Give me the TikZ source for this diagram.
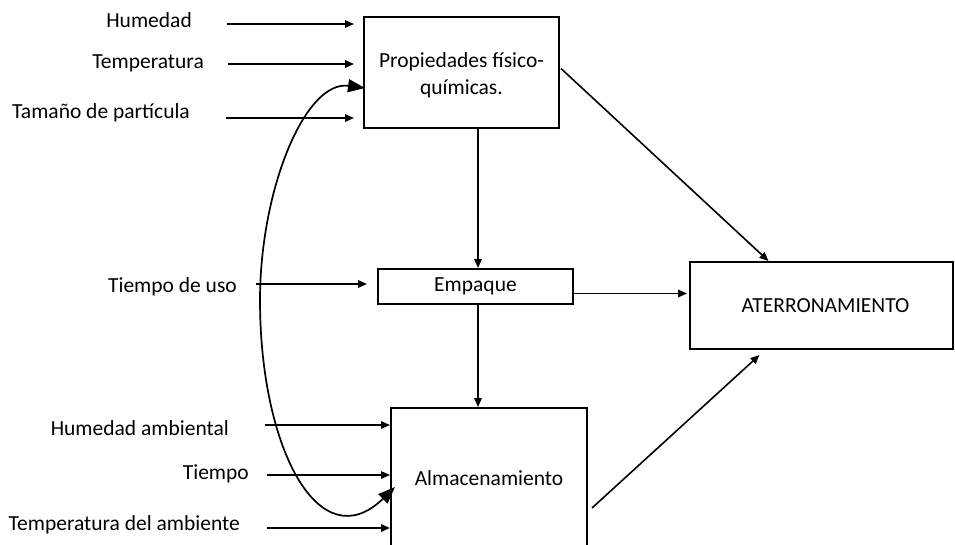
\documentclass[tikz,border=0pt]{standalone}
\usepackage{fontspec}
\setmainfont{Carlito}
\usetikzlibrary{arrows.meta,calc}
\begin{document}
\begin{tikzpicture}[x=1pt,y=-1pt,
  box/.style={draw,line width=2pt,rectangle,inner sep=0pt,align=center},
  lab/.style={inner sep=0pt,anchor=base east},
  arr/.style={-{Triangle[length=9pt,width=7.5pt]},line width=1.6pt},
  thinarr/.style={arr,line width=1.1pt},
  bigarr/.style={{Triangle[length=17pt,width=13pt]}-{Triangle[length=17pt,width=13pt]},line width=1.7pt},
  font=\fontsize{21.5}{27}\selectfont]
\useasboundingbox (0,0) rectangle (955,544);

% main blocks
\node[box,minimum width=195pt,minimum height=111pt] (prop) at (461.5,72.5) {};
\node[align=center,inner sep=0pt] (proptxt) at ($(prop.center)+(0,3)$) {Propiedades físico-\\químicas.};
\node[box,minimum width=195pt,minimum height=35pt] (emp) at (475.5,286.5) {Empaque};
\node[box,minimum width=263pt,minimum height=87pt] (ater) at (821.5,305.5) {\hspace*{8pt}ATERRONAMIENTO};
\node[box,minimum width=196pt,minimum height=140pt] (alm) at (489,478) {Almacenamiento};

% input factors
\node[lab] (hum)  at (192,27)  {Humedad};
\node[lab] (tem)  at (204,68)  {Temperatura};
\node[lab] (tam)  at (190,118) {Tamaño de partícula};
\node[lab] (uso)  at (237,292) {Tiempo de uso};
\node[lab] (huma) at (229,435) {Humedad ambiental};
\node[lab] (tiem) at (249,479) {Tiempo};
\node[lab] (tema) at (240,530) {Temperatura del ambiente};

% factor arrows
\draw[thinarr] ($(hum.base east)+(35,-3)$) -- ($(prop.west |- hum.base east)+(-9,-3)$);
\draw[arr] ($(tem.base east)+(24,-4)$) -- ($(prop.west |- tem.base east)+(-9,-4)$);
\draw[arr] ($(tam.base east)+(36,0)$) -- ($(prop.west |- tam.base east)+(-9,0)$);
\draw[arr] ($(uso.base east)+(19,-8)$) -- ($(emp.west |- uso.base east)+(-10,-8)$);
\draw[thinarr] ($(huma.base east)+(36,-10)$) -- ($(alm.west |- huma.base east)+(0,-10)$);
\draw[thinarr] ($(tiem.base east)+(18,-4)$) -- ($(alm.west |- tiem.base east)+(0,-4)$);
\draw[arr,line width=2pt] ($(tema.base east)+(27,-2)$) -- ($(alm.west |- tema.base east)+(0,-2)$);

% links between blocks
\draw[arr] ($(prop.south)+(16.5,0)$) -- ($(emp.north)+(2.5,0)$);
\draw[arr] ($(emp.south)+(2.5,0)$) -- ($(alm.north)+(-11,0)$);
\draw[arr] ($(emp.east)+(0,7)$) -- ($(ater.west)+(-2,-12)$);
\draw[arr] ($(prop.east)+(1,-4)$) -- ($(ater.north)+(-53,0)$);
\draw[arr] ($(alm.east)+(4,30)$) -- ($(ater.south)+(-62,5)$);

% feedback between storage and properties
\draw[bigarr] ($(alm.west)+(5,9)$) .. controls (320,560) and (260,450) .. (260,300)
  .. controls (260,190) and (305,80) .. ($(prop.west)+(2,15.5)$);
\end{tikzpicture}
\end{document}
